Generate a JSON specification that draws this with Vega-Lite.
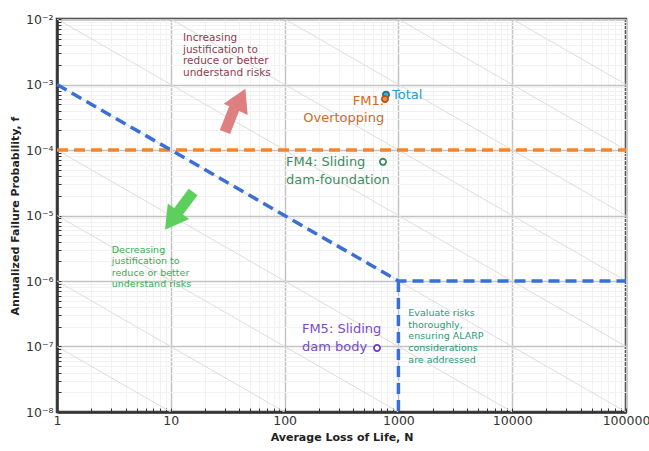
{
  "$schema": "https://vega.github.io/schema/vega-lite/v6.json",
  "width": 569,
  "height": 393,
  "autosize": {"type": "none"},
  "padding": {"left": 57, "top": 19, "right": 23, "bottom": 39},
  "background": "white",
  "config": {
    "view": {"stroke": "#333333", "strokeWidth": 2.5},
    "font": "DejaVu Sans"
  },
  "datasets": {
    "diag": [
      {"c": "a", "N": 1, "f": 1e-7}, {"c": "a", "N": 10, "f": 1e-8},
      {"c": "b", "N": 1, "f": 1e-6}, {"c": "b", "N": 100, "f": 1e-8},
      {"c": "c", "N": 1, "f": 1e-5}, {"c": "c", "N": 1000, "f": 1e-8},
      {"c": "d", "N": 1, "f": 1e-4}, {"c": "d", "N": 10000, "f": 1e-8},
      {"c": "e", "N": 1, "f": 1e-3}, {"c": "e", "N": 100000, "f": 1e-8},
      {"c": "f", "N": 1, "f": 1e-2}, {"c": "f", "N": 100000, "f": 1e-7},
      {"c": "g", "N": 10, "f": 1e-2}, {"c": "g", "N": 100000, "f": 1e-6},
      {"c": "h", "N": 100, "f": 1e-2}, {"c": "h", "N": 100000, "f": 1e-5},
      {"c": "i", "N": 1000, "f": 1e-2}, {"c": "i", "N": 100000, "f": 1e-4},
      {"c": "j", "N": 10000, "f": 1e-2}, {"c": "j", "N": 100000, "f": 1e-3}
    ],
    "orange": [{"N": 1, "f": 1e-4}, {"N": 100000, "f": 1e-4}],
    "blue": [
      {"seg": "a", "i": 1, "N": 1, "f": 1e-3},
      {"seg": "a", "i": 2, "N": 1000, "f": 1e-6},
      {"seg": "a", "i": 3, "N": 100000, "f": 1e-6},
      {"seg": "b", "i": 1, "N": 1000, "f": 1e-6},
      {"seg": "b", "i": 2, "N": 1000, "f": 1e-8}
    ],
    "pts": [
      {"name": "Total", "N": 778, "f": 7.0e-4},
      {"name": "FM1", "N": 762, "f": 6.0e-4},
      {"name": "FM4", "N": 732, "f": 6.6e-5},
      {"name": "FM5", "N": 649, "f": 9.5e-8}
    ],
    "labels": [
      {"name": "Total", "N": 879, "f": 7.0e-4, "text": "Total"},
      {"name": "FM1", "N": 750, "f": 6.9e-4, "text": "FM1:\nOvertopping"},
      {"name": "FM4", "N": 103, "f": 8.24e-5, "text": "FM4: Sliding\ndam-foundation"},
      {"name": "FM5", "N": 142, "f": 2.32e-7, "text": "FM5: Sliding\ndam body"},
      {"name": "inc", "N": 12.8, "f": 6.1e-3, "text": "Increasing\njustification to\nreduce or better\nunderstand risks"},
      {"name": "dec", "N": 3.03, "f": 3.55e-6, "text": "Decreasing\njustification to\nreduce or better\nunderstand risks"},
      {"name": "eval", "N": 1222, "f": 3.87e-7, "text": "Evaluate risks\nthoroughly,\nensuring ALARP\nconsiderations\nare addressed"}
    ],
    "shafts": [
      {"name": "up", "N": 29.9, "f": 1.88e-4, "N2": 37.4, "f2": 5.04e-4},
      {"name": "down", "N": 15.7, "f": 2.29e-5, "N2": 11.0, "f2": 1.0e-5}
    ],
    "heads": [
      {"name": "up", "N": 41.0, "f": 6.0e-4},
      {"name": "down", "N": 10.2, "f": 8.36e-6}
    ]
  },
  "encoding": {
    "x": {
      "field": "N",
      "type": "quantitative",
      "scale": {"type": "log", "domain": [1, 100000], "nice": false},
      "axis": {
        "title": "Average Loss of Life, N",
        "values": [1,2,3,4,5,6,7,8,9,10,20,30,40,50,60,70,80,90,100,200,300,400,500,600,700,800,900,1000,2000,3000,4000,5000,6000,7000,8000,9000,10000,20000,30000,40000,50000,60000,70000,80000,90000,100000],
        "labelExpr": "abs(log(datum.value)/LN10 - round(log(datum.value)/LN10)) < 0.001 ? format(datum.value, 'd') : ''",
        "labelFont": "DejaVu Sans",
        "labelFontSize": 12.5,
        "labelColor": "#333333",
        "labelPadding": 6,
        "labelOverlap": false,
        "labelFlush": false,
        "labelBound": false,
        "grid": true,
        "gridColor": {"condition": {"test": "abs(log(datum.value)/LN10 - round(log(datum.value)/LN10)) < 0.001", "value": "#c4c4c4"}, "value": "#f2f2f2"},
        "gridWidth": {"condition": {"test": "abs(log(datum.value)/LN10 - round(log(datum.value)/LN10)) < 0.001", "value": 1.5}, "value": 1},
        "ticks": true,
        "tickSize": -4,
        "tickColor": "#333333",
        "tickWidth": 1,
        "domainColor": "#333333",
        "domainWidth": 2.5,
        "titleFont": "DejaVu Sans",
        "titleFontWeight": "bold",
        "titleFontSize": 11,
        "titleColor": "#222222",
        "titlePadding": 5
      }
    },
    "y": {
      "field": "f",
      "type": "quantitative",
      "scale": {"type": "log", "domain": [1e-8, 1e-2], "nice": false},
      "axis": {
        "title": "Annualized Failure Probability, f",
        "values": [1e-8,2e-8,3e-8,4e-8,5e-8,6e-8,7e-8,8e-8,9e-8,1e-7,2e-7,3e-7,4e-7,5e-7,6e-7,7e-7,8e-7,9e-7,1e-6,2e-6,3e-6,4e-6,5e-6,6e-6,7e-6,8e-6,9e-6,1e-5,2e-5,3e-5,4e-5,5e-5,6e-5,7e-5,8e-5,9e-5,1e-4,2e-4,3e-4,4e-4,5e-4,6e-4,7e-4,8e-4,9e-4,1e-3,2e-3,3e-3,4e-3,5e-3,6e-3,7e-3,8e-3,9e-3,1e-2],
        "labelExpr": "abs(log(datum.value)/LN10 - round(log(datum.value)/LN10)) < 0.001 ? '10\u207b' + ['', '\u00b9', '\u00b2', '\u00b3', '\u2074', '\u2075', '\u2076', '\u2077', '\u2078'][round(-log(datum.value)/LN10)] : ''",
        "labelFont": "DejaVu Sans",
        "labelFontSize": 12.5,
        "labelColor": "#333333",
        "labelPadding": 8,
        "labelOverlap": false,
        "labelFlush": false,
        "labelBound": false,
        "grid": true,
        "gridColor": {"condition": {"test": "abs(log(datum.value)/LN10 - round(log(datum.value)/LN10)) < 0.001", "value": "#c4c4c4"}, "value": "#f2f2f2"},
        "gridWidth": {"condition": {"test": "abs(log(datum.value)/LN10 - round(log(datum.value)/LN10)) < 0.001", "value": 1.5}, "value": 1},
        "ticks": true,
        "tickSize": -4,
        "tickColor": "#333333",
        "tickWidth": 1,
        "domainColor": "#333333",
        "domainWidth": 2.5,
        "titleFont": "DejaVu Sans",
        "titleFontWeight": "bold",
        "titleFontSize": 11,
        "titleColor": "#222222",
        "titlePadding": 5
      }
    }
  },
  "layer": [
    {
      "data": {"name": "diag"},
      "mark": {"type": "line", "color": "#dddddd", "strokeWidth": 1, "clip": true},
      "encoding": {"detail": {"field": "c", "type": "nominal"}}
    },
    {
      "data": {"name": "orange"},
      "mark": {"type": "line", "color": "#f5852a", "strokeWidth": 3.5, "strokeDash": [11, 6], "strokeCap": "butt"},
      "encoding": {}
    },
    {
      "data": {"name": "blue"},
      "mark": {"type": "line", "color": "#3a6fd6", "strokeWidth": 3.5, "strokeDash": [11, 6], "strokeCap": "butt"},
      "encoding": {
        "detail": {"field": "seg", "type": "nominal"},
        "order": {"field": "i", "type": "quantitative"}
      }
    },
    {
      "data": {"name": "shafts"},
      "transform": [{"filter": "datum.name == 'up'"}],
      "mark": {"type": "rule", "color": "#e07f80", "strokeWidth": 11, "strokeCap": "butt"},
      "encoding": {"x2": {"field": "N2"}, "y2": {"field": "f2"}}
    },
    {
      "data": {"name": "heads"},
      "transform": [{"filter": "datum.name == 'up'"}],
      "mark": {"type": "point", "shape": "triangle-up", "angle": 25, "size": 700, "filled": true, "color": "#e07f80", "opacity": 1, "strokeWidth": 0}
    },
    {
      "data": {"name": "shafts"},
      "transform": [{"filter": "datum.name == 'down'"}],
      "mark": {"type": "rule", "color": "#5ccf5c", "strokeWidth": 11, "strokeCap": "butt"},
      "encoding": {"x2": {"field": "N2"}, "y2": {"field": "f2"}}
    },
    {
      "data": {"name": "heads"},
      "transform": [{"filter": "datum.name == 'down'"}],
      "mark": {"type": "point", "shape": "triangle-up", "angle": 216, "size": 700, "filled": true, "color": "#5ccf5c", "opacity": 1, "strokeWidth": 0}
    },
    {
      "data": {"name": "pts"},
      "mark": {"type": "circle", "size": 38, "strokeWidth": 1.8, "opacity": 1},
      "encoding": {
        "fill": {"field": "name", "type": "nominal", "scale": {"domain": ["Total", "FM1", "FM4", "FM5"], "range": ["#3ab4d4", "#f08a3c", "#ffffff", "#ffffff"]}, "legend": null},
        "stroke": {"field": "name", "type": "nominal", "scale": {"domain": ["Total", "FM1", "FM4", "FM5"], "range": ["#1d6f8f", "#b4541a", "#3b8f5f", "#6a3cc0"]}, "legend": null}
      }
    },
    {
      "data": {"name": "labels"},
      "transform": [{"filter": "datum.name == 'Total'"}],
      "mark": {"type": "text", "align": "left", "baseline": "middle", "fontSize": 13, "font": "DejaVu Sans", "color": "#22a0c8"},
      "encoding": {"text": {"field": "text"}}
    },
    {
      "data": {"name": "labels"},
      "transform": [{"filter": "datum.name == 'FM1'"}],
      "mark": {"type": "text", "align": "right", "baseline": "top", "fontSize": 13, "font": "DejaVu Sans", "lineBreak": "\n", "lineHeight": 17, "color": "#d06a24"},
      "encoding": {"text": {"field": "text"}}
    },
    {
      "data": {"name": "labels"},
      "transform": [{"filter": "datum.name == 'FM4'"}],
      "mark": {"type": "text", "align": "left", "baseline": "top", "fontSize": 13, "font": "DejaVu Sans", "lineBreak": "\n", "lineHeight": 18, "color": "#3b8d5d"},
      "encoding": {"text": {"field": "text"}}
    },
    {
      "data": {"name": "labels"},
      "transform": [{"filter": "datum.name == 'FM5'"}],
      "mark": {"type": "text", "align": "left", "baseline": "top", "fontSize": 13, "font": "DejaVu Sans", "lineBreak": "\n", "lineHeight": 18, "color": "#7a4cc8"},
      "encoding": {"text": {"field": "text"}}
    },
    {
      "data": {"name": "labels"},
      "transform": [{"filter": "datum.name == 'inc'"}],
      "mark": {"type": "text", "align": "left", "baseline": "top", "fontSize": 10.5, "font": "DejaVu Sans", "lineBreak": "\n", "lineHeight": 11.7, "color": "#8e3c50"},
      "encoding": {"text": {"field": "text"}}
    },
    {
      "data": {"name": "labels"},
      "transform": [{"filter": "datum.name == 'dec'"}],
      "mark": {"type": "text", "align": "left", "baseline": "top", "fontSize": 9.5, "font": "DejaVu Sans", "lineBreak": "\n", "lineHeight": 11.5, "color": "#3aaa55"},
      "encoding": {"text": {"field": "text"}}
    },
    {
      "data": {"name": "labels"},
      "transform": [{"filter": "datum.name == 'eval'"}],
      "mark": {"type": "text", "align": "left", "baseline": "top", "fontSize": 9.5, "font": "DejaVu Sans", "lineBreak": "\n", "lineHeight": 11.7, "color": "#2b9a78"},
      "encoding": {"text": {"field": "text"}}
    }
  ]
}
